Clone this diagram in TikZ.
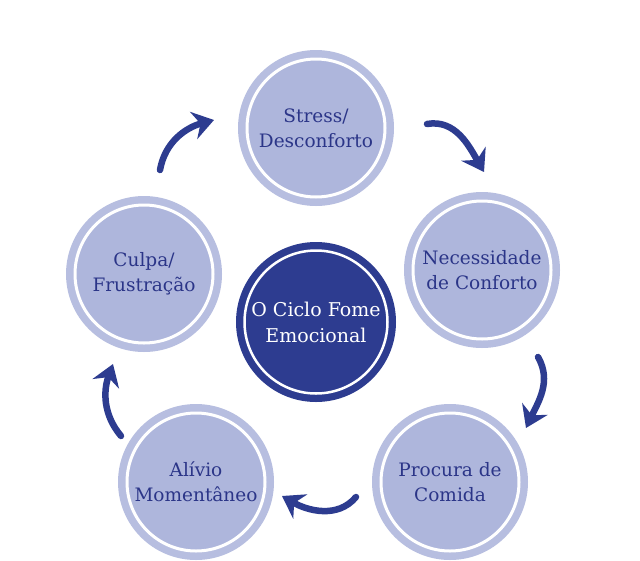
\documentclass[tikz,border=0pt]{standalone}
\usepackage{fontspec}
\setmainfont{DejaVu Serif}
\usetikzlibrary{arrows.meta}
\definecolor{ringblue}{HTML}{B7BEE0}
\definecolor{discblue}{HTML}{AEB6DC}
\definecolor{darkblue}{HTML}{2D3C90}
\definecolor{textblue}{HTML}{2B3588}
\tikzset{
  x=1pt, y=-1pt,
  stage/.style={circle, minimum size=156pt, inner sep=0pt, fill=ringblue,
    text=textblue, align=center, font=\fontsize{18.5}{25}\selectfont,
    path picture={\fill[discblue] (path picture bounding box.center) circle (68);
      \draw[white, line width=3pt] (path picture bounding box.center) circle (69);}},
  hub/.style={circle, minimum size=160pt, inner sep=0pt, fill=darkblue,
    text=white, align=center, font=\fontsize{19}{26}\selectfont,
    path picture={\draw[white, line width=2.5pt] (path picture bounding box.center) circle (71.5);}},
  cyc/.style={darkblue, line width=6.5pt, line cap=round,
    -{Stealth[length=21pt,width=28pt,inset=7pt]}}
}
\begin{document}
\begin{tikzpicture}
\useasboundingbox (0,0) rectangle (640,560);
\fill[white] (0,0) rectangle (640,560);
\node[stage] (s) at (316,128) {Stress/\\Desconforto};
\node[stage] (n) at (482,270) {Necessidade\\de Conforto};
\node[stage] (p) at (450,482) {Procura de\\Comida};
\node[stage] (a) at (196,482) {Alívio\\Momentâneo};
\node[stage] (c) at (144,274) {Culpa/\\Frustração};
\node[hub] (h) at (316,322) {O Ciclo Fome\\Emocional};
% arrow end points
\coordinate (a1s) at (160,170); \coordinate (a1e) at (214,120);
\coordinate (a2s) at (427,124); \coordinate (a2e) at (484,172);
\coordinate (a3s) at (538,357); \coordinate (a3e) at (526,428);
\coordinate (a4s) at (356,497); \coordinate (a4e) at (282,496);
\coordinate (a5s) at (121,436); \coordinate (a5e) at (113,364);
\draw[cyc] (a1s) to[out=80, in=195] (a1e);
\draw[cyc] (a2s) to[out=10, in=120] (a2e);
\draw[cyc] (a3s) to[out=-60, in=65] (a3e);
\draw[cyc] (a4s) to[out=230, in=-30] (a4e);
\draw[cyc] (a5s) to[out=130, in=250] (a5e);
\end{tikzpicture}
\end{document}
